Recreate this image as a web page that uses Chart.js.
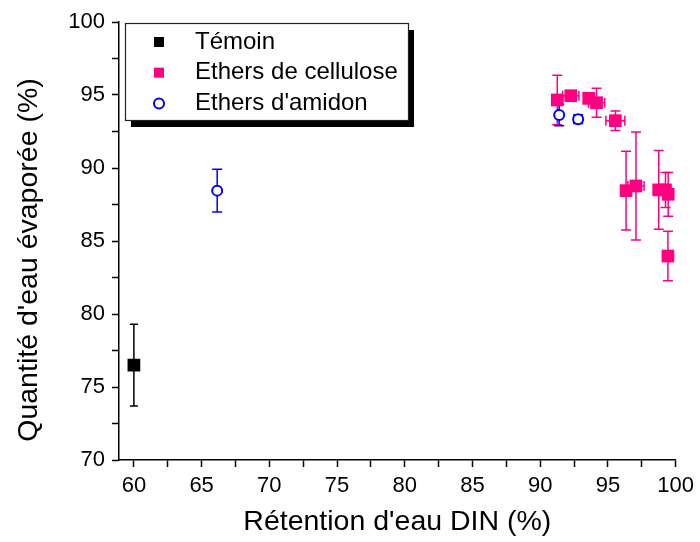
<!DOCTYPE html>
<html>
<head>
<meta charset="utf-8">
<script src="https://cdn.jsdelivr.net/npm/chart.js@4.4.0/dist/chart.umd.min.js"></script>
<style>
  body { margin: 0; background: #fff; }
  canvas { display: block; }
</style>
</head>
<body>
<canvas id="c" width="700" height="542"></canvas>
<script>
// data
var seriesNames = ['Témoin', 'Ethers de cellulose', "Ethers d'amidon"]

var temoinX = [60.0]
var temoinY = [76.5]
var temoinXErr = [0]
var temoinYErr = [2.8]

var celluloseX = [91.26, 92.26, 93.58, 94.16, 95.55, 96.34, 97.07, 98.75, 99.25, 99.45, 99.43]
var celluloseY = [94.66, 94.95, 94.77, 94.47, 93.24, 88.45, 88.77, 88.5, 88.5, 88.2, 83.97]
var celluloseXErr = [0, 0.6, 0, 0.6, 0.7, 0, 0.6, 0, 0, 0.3, 0]
var celluloseYErr = [1.7, 0.3, 0.3, 1.0, 0.67, 2.7, 3.7, 2.7, 1.2, 1.5, 1.7]

var amidonX = [66.15, 91.4, 92.8]
var amidonY = [88.45, 93.63, 93.34]
var amidonXErr = [0, 0, 0.3]
var amidonYErr = [1.47, 0.73, 0.3]

var xTicks = [60, 62.5, 65, 67.5, 70, 72.5, 75, 77.5, 80, 82.5, 85, 87.5, 90, 92.5, 95, 97.5, 100]
var yTicks = [70, 72.5, 75, 77.5, 80, 82.5, 85, 87.5, 90, 92.5, 95, 97.5, 100]

var xTitle = 'Rétention d\'eau DIN (%)'
var yTitle = 'Quantité d\'eau évaporée (%)'

const PINK = 'rgb(255, 0, 128)'
const BLUE = 'rgb(0, 0, 255)'
const FONT = '"Liberation Sans", Arial, sans-serif'

function points(xs, ys, xe, ye) {
  return xs.map((v, i) => ({ x: v, y: ys[i], xErr: xe[i], yErr: ye[i] }))
}

// error bars drawn under the markers
const errorBars = {
  id: 'errorBars',
  beforeDatasetsDraw(chart) {
    const { ctx, scales: { x, y } } = chart
    chart.data.datasets.forEach(ds => {
      ctx.save()
      ctx.strokeStyle = ds.errColor
      ctx.lineWidth = 1.5
      const cap = ds.capWidth / 2
      ds.data.forEach(p => {
        const px = x.getPixelForValue(p.x)
        const py = y.getPixelForValue(p.y)
        ctx.beginPath()
        if (p.yErr) {
          const t = y.getPixelForValue(p.y + p.yErr)
          const b = y.getPixelForValue(p.y - p.yErr)
          ctx.moveTo(px, t); ctx.lineTo(px, b)
          ctx.moveTo(px - cap, t); ctx.lineTo(px + cap, t)
          ctx.moveTo(px - cap, b); ctx.lineTo(px + cap, b)
        }
        if (p.xErr) {
          const l = x.getPixelForValue(p.x - p.xErr)
          const r = x.getPixelForValue(p.x + p.xErr)
          ctx.moveTo(l, py); ctx.lineTo(r, py)
          ctx.moveTo(l, py - cap); ctx.lineTo(l, py + cap)
          ctx.moveTo(r, py - cap); ctx.lineTo(r, py + cap)
        }
        ctx.stroke()
      })
      ctx.restore()
    })
  }
}

// framed legend with drop shadow + y title
const extras = {
  id: 'extras',
  afterDraw(chart) {
    const ctx = chart.ctx
    const bx = 125, by = 23, bw = 283, bh = 97
    ctx.save()
    ctx.fillStyle = '#000'
    ctx.fillRect(bx + 6, by + 7, bw, bh)
    ctx.fillStyle = '#fff'
    ctx.fillRect(bx, by, bw, bh)
    ctx.strokeStyle = '#222'
    ctx.lineWidth = 1.2
    ctx.strokeRect(bx + 0.5, by + 0.5, bw, bh)

    ctx.font = '24px ' + FONT
    ctx.textBaseline = 'middle'
    chart.data.datasets.forEach((ds, i) => {
      const ry = 42 + i * 30.7
      if (ds.pointStyle === 'rect') {
        ctx.fillStyle = ds.backgroundColor
        ctx.fillRect(159 - 5, ry - 5, 10, 10)
      } else {
        ctx.strokeStyle = ds.borderColor
        ctx.lineWidth = 2
        ctx.beginPath()
        ctx.arc(159, ry, 5, 0, Math.PI * 2)
        ctx.stroke()
      }
      ctx.fillStyle = '#000'
      ctx.fillText(ds.label, 195, ry)
    })

    ctx.font = '28.5px ' + FONT
    ctx.textAlign = 'center'
    ctx.translate(29, 260)
    ctx.rotate(-Math.PI / 2)
    ctx.fillText(yTitle, 0, 0)
    ctx.restore()
  }
}

const chartConfig = {
  type: 'scatter',
  data: {
    datasets: [
      {
        label: seriesNames[0],
        data: points(temoinX, temoinY, temoinXErr, temoinYErr),
        pointStyle: 'rect', pointRadius: 9, borderWidth: 0,
        backgroundColor: '#000', borderColor: '#000',
        errColor: '#000', capWidth: 8
      },
      {
        label: seriesNames[1],
        data: points(celluloseX, celluloseY, celluloseXErr, celluloseYErr),
        pointStyle: 'rect', pointRadius: 9, borderWidth: 0,
        backgroundColor: PINK, borderColor: PINK,
        errColor: PINK, capWidth: 10
      },
      {
        label: seriesNames[2],
        data: points(amidonX, amidonY, amidonXErr, amidonYErr),
        pointStyle: 'circle', pointRadius: 5, borderWidth: 2,
        backgroundColor: '#fff', borderColor: BLUE,
        errColor: BLUE, capWidth: 10
      }
    ]
  },
  options: {
    responsive: false,
    animation: false,
    devicePixelRatio: 1,
    clip: false,
    layout: { padding: { top: 22, right: 19, left: 0, bottom: 0 } },
    plugins: { legend: { display: false }, tooltip: { enabled: false } },
    scales: {
      x: {
        type: 'linear', min: 58.9, max: 100,
        afterBuildTicks: s => { s.ticks = xTicks.map(v => ({ value: v })) },
        afterFit: s => { s.height = 82 },
        ticks: {
          autoSkip: false, maxRotation: 0, padding: 6, color: '#000',
          font: { size: 22, family: FONT },
          callback: v => (v % 5 === 0 ? v : '')
        },
        grid: { drawOnChartArea: false, tickLength: 7, tickColor: '#000', tickWidth: 1.5 },
        border: { color: '#000', width: 1.5 },
        title: {
          display: true, text: xTitle, color: '#000',
          font: { size: 28.5, family: FONT }, padding: { top: 0, bottom: 3 }
        }
      },
      y: {
        type: 'linear', min: 70, max: 100,
        afterBuildTicks: s => { s.ticks = yTicks.map(v => ({ value: v })) },
        afterFit: s => { s.width = 119 },
        ticks: {
          autoSkip: false, padding: 7, color: '#000',
          font: { size: 22, family: FONT },
          callback: v => (v % 5 === 0 ? v : '')
        },
        grid: { drawOnChartArea: false, tickLength: 7, tickColor: '#000', tickWidth: 1.5 },
        border: { color: '#000', width: 1.5 }
      }
    }
  },
  plugins: [errorBars, extras]
}

new Chart(document.getElementById('c'), chartConfig)
</script>
</body>
</html>
